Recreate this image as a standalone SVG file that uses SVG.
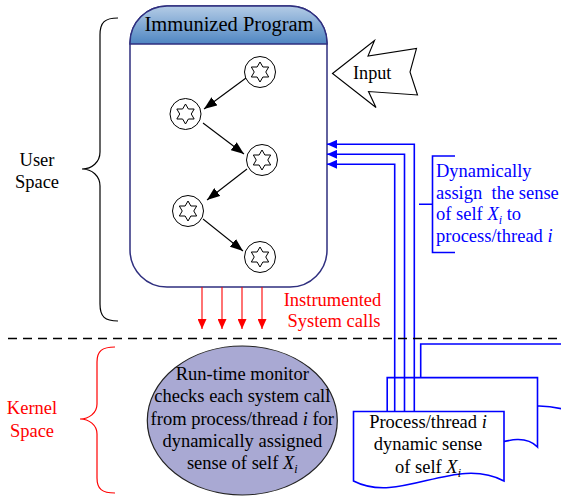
<svg xmlns="http://www.w3.org/2000/svg" width="561" height="499" viewBox="0 0 561 499" font-family="'Liberation Serif', 'Times New Roman', Times, serif">
<defs>
<linearGradient id="hdr" x1="0" y1="0" x2="0" y2="1">
<stop offset="0" stop-color="#b4cce6"/>
<stop offset="1" stop-color="#4f86c2"/>
</linearGradient>
<marker id="ab" markerUnits="userSpaceOnUse" markerWidth="14" markerHeight="10" refX="13" refY="5" orient="auto"><path d="M0,0 L13,5 L0,10 Z" fill="#000"/></marker>
<marker id="ar" markerUnits="userSpaceOnUse" markerWidth="11" markerHeight="9" refX="10" refY="4.5" orient="auto"><path d="M0,0 L10,4.5 L0,9 Z" fill="#ff0000"/></marker>
<marker id="au" markerUnits="userSpaceOnUse" markerWidth="11" markerHeight="9" refX="10" refY="4.5" orient="auto"><path d="M0,0 L10,4.5 L0,9 Z" fill="#0000ff"/></marker>
<g id="star">
<circle r="15.5" fill="#fff" stroke="#000" stroke-width="1"/>
<polygon points="0,-10 2.89,-5 8.66,-5 5.77,0 8.66,5 2.89,5 0,10 -2.89,5 -8.66,5 -5.77,0 -8.66,-5 -2.89,-5" fill="none" stroke="#000" stroke-width="1"/>
</g>
</defs>
<style>
text{font-family:"Liberation Serif","Times New Roman",Times,serif;font-size:18.5px;}
.c{text-anchor:middle;}
.blk{fill:#000;}
.red{fill:#ff0000;}
.blu{fill:#0000ff;}
.it{font-style:italic;}
.sub{font-size:12px;font-style:italic;}
.bl{fill:none;stroke:#0000ff;stroke-width:1.6;}
.doc{fill:#fff;stroke:#0000ff;stroke-width:1.6;}
.edge{fill:none;stroke:#000;stroke-width:1.1;marker-end:url(#ab);}
.redge{fill:none;stroke:#ff0000;stroke-width:1.1;marker-end:url(#ar);}
</style>
<rect width="561" height="499" fill="#fff"/>

<g id="user-brace">
<path d="M118,18 C105,18 100,22 100,35 V152 C100,162 92,169 82,169 C92,169 100,176 100,186 V304 C100,317 105,321 118,321" fill="none" stroke="#000" stroke-width="1.2"/>
<text class="c blk" x="37" y="166">User</text>
<text class="c blk" x="37" y="188">Space</text>
</g>

<g id="kernel-brace">
<path d="M115,347 C102,347 97,351 97,362 V404 C97,413 89,419 80,419 C89,419 97,425 97,434 V478 C97,489 102,493 115,493" fill="none" stroke="#ff0000" stroke-width="1.2"/>
<text class="c red" x="32" y="414">Kernel</text>
<text class="c red" x="32" y="437">Space</text>
</g>

<g id="program">
<rect x="130" y="6" width="197" height="281" rx="37" ry="37" fill="#fff" stroke="#2f2f7f" stroke-width="1.5"/>
<path d="M130,44 V43 A37,37 0 0 1 167,6 H290 A37,37 0 0 1 327,43 V44 Z" fill="url(#hdr)" stroke="#2f2f7f" stroke-width="1.5"/>
<text class="c blk" x="229" y="31" style="font-size:20.5px">Immunized Program</text>
</g>

<g id="n1"><use href="#star" x="260" y="72"/></g>
<g id="n2"><use href="#star" x="185.5" y="114"/></g>
<g id="n3"><use href="#star" x="262" y="160"/></g>
<g id="n4"><use href="#star" x="188" y="211"/></g>
<g id="n5"><use href="#star" x="260" y="257"/></g>

<g id="input">
<polygon points="332.5,73.5 374.5,40.5 368,56 416.5,48.5 410,72 417.5,95 368.5,91.5 376,107.5" fill="#fff" stroke="#000" stroke-width="1.1" stroke-linejoin="miter"/>
<text class="blk" x="353" y="79" style="font-size:18.2px">Input</text>
</g>

<g id="docs">
<path class="doc" d="M420.7,344 H575 V413 C540,400 520,408 500,413.5 C480,420 450,420 420.7,413.5 Z"/>
<path class="doc" d="M387.2,377.6 H537.5 V447 C512.5,421.5 467.5,471.5 387.2,447 Z"/>
<path class="doc" d="M353.5,411.5 H504 V481 C455,455 400,505 353.5,481 Z"/>
<text class="c blk" x="428" y="428"><tspan>Process/thread </tspan><tspan class="it">i</tspan></text>
<text class="c blk" x="428" y="450">dynamic sense</text>
<text class="c blk" x="428" y="472.5">of self <tspan class="it">X</tspan><tspan class="sub" dy="4">i</tspan></text>
</g>

<g id="monitor">
<ellipse cx="242.3" cy="420.5" rx="95" ry="74.5" fill="#a9a9d3" stroke="#222" stroke-width="1.2"/>
<text class="c blk" x="242.3" y="380">Run-time monitor</text>
<text class="c blk" x="242.3" y="402">checks each system call</text>
<text class="c blk" x="242.3" y="424.5">from process/thread <tspan class="it">i</tspan> for</text>
<text class="c blk" x="242.3" y="447">dynamically assigned</text>
<text class="c blk" x="242.3" y="469">sense of self <tspan class="it">X</tspan><tspan class="sub" dy="4">i</tspan></text>
</g>

<g id="label-assign">
<path class="bl" d="M455,156 H432.5 V252.5 H455 M432.5,204.3 H419"/>
<text class="blu" x="436" y="177">Dynamically</text>
<text class="blu" x="436" y="198.5" xml:space="preserve">assign  the sense</text>
<text class="blu" x="436" y="220">of self <tspan class="it">X</tspan><tspan class="sub" dy="4">i</tspan><tspan dy="-4"> to</tspan></text>
<text class="blu" x="436" y="242">process/thread <tspan class="it">i</tspan></text>
</g>

<g id="label-instr">
<text class="c red" x="332.5" y="306">Instrumented</text>
<text class="c red" x="334" y="327">System calls</text>
</g>

<g id="connectors">
<path class="edge" d="M246,78 L204,109"/>
<path class="edge" d="M203,123 L244,154"/>
<path class="edge" d="M247,169 L207,200"/>
<path class="edge" d="M203,219 L243,251"/>
<path class="redge" d="M202,287 V329"/>
<path class="redge" d="M222,287 V329"/>
<path class="redge" d="M242,287 V329"/>
<path class="redge" d="M262,287 V329"/>
<path class="bl" d="M414.3,411.5 V144.3 H327" marker-end="url(#au)"/>
<path class="bl" d="M404.5,411.5 V154.3 H327" marker-end="url(#au)"/>
<path class="bl" d="M394.7,411.5 V164.3 H327" marker-end="url(#au)"/>
<path d="M8,338.5 H561" fill="none" stroke="#000" stroke-width="1.3" stroke-dasharray="9,6"/>
</g>
</svg>
